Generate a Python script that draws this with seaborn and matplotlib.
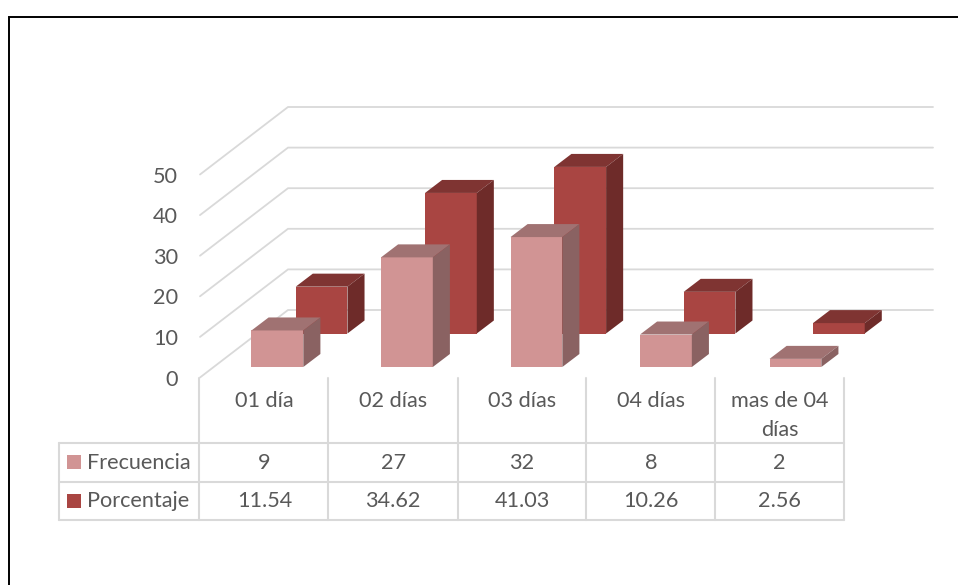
import matplotlib
matplotlib.use("Agg")
import matplotlib.pyplot as plt
from matplotlib.patches import Polygon, Rectangle
from matplotlib.transforms import Affine2D, blended_transform_factory
import pandas as pd
import seaborn as sns

categorias = ["01 día", "02 días", "03 días", "04 días", "mas de 04\ndías"]
frecuencia = [9, 27, 32, 8, 2]
porcentaje = [11.54, 34.62, 41.03, 10.26, 2.56]
frecuencia_txt = ["9", "27", "32", "8", "2"]
porcentaje_txt = ["11.54", "34.62", "41.03", "10.26", "2.56"]
ticks_y = [0, 10, 20, 30, 40, 50]

W, H = 958, 585
TEXTO = "#595959"
REJILLA = "#d9d9d9"
TONOS = {
    "Frecuencia": {"cara": "#d19494", "techo": "#a07272", "lado": "#8a6262"},
    "Porcentaje": {"cara": "#a94542", "techo": "#7f3432", "lado": "#6e2b29"},
}

sns.set_theme(style="white")
plt.rcParams["font.family"] = ["Lato", "DejaVu Sans"]
TAM = 15.6

df = pd.DataFrame({
    "categoria": categorias * 2,
    "valor": frecuencia + porcentaje,
    "serie": ["Frecuencia"] * 5 + ["Porcentaje"] * 5,
})

fig = plt.figure(figsize=(W / 100, H / 100), dpi=100, facecolor="white")

# Capa en píxeles para el marco y la tabla de datos
capa = fig.add_axes([0, 0, 1, 1], zorder=1)
capa.set_xlim(0, W)
capa.set_ylim(H, 0)
capa.axis("off")

# Ejes principales: cada categoría ocupa una celda de la tabla
X0, X1, Y0, Y50 = 200, 844, 377.5, 174.5
ax = fig.add_axes([X0 / W, 1 - Y0 / H, (X1 - X0) / W, (Y0 - Y50) / H], zorder=2)
ax.patch.set_alpha(0)

sns.barplot(
    data=df, x="categoria", y="valor", hue="serie", order=categorias,
    hue_order=["Porcentaje", "Frecuencia"], palette={k: v["cara"] for k, v in TONOS.items()},
    dodge=False, width=0.40, saturation=1, legend=False, linewidth=0, ax=ax,
)
ax.set_xlim(-0.5, 4.5)
ax.set_ylim(0, 50)

PX_X = (X1 - X0) / 5
PX_Y = (Y0 - Y50) / 50

# Paredes del fondo: una línea oblicua y otra horizontal por cada marca
PARED_X, PARED_Y = 88 / PX_X, 67.5 / PX_Y
FIN_X = -0.5 + (933 - X0) / PX_X
for v in ticks_y:
    ax.plot([-0.5, -0.5 + PARED_X, FIN_X], [v, v + PARED_Y, v + PARED_Y],
            color=REJILLA, lw=1.3, zorder=0, clip_on=False, solid_joinstyle="miter")

# Volumen de las barras: cara desplazada hacia su fila, con techo y lateral.
# La perspectiva separa las barras algo más que las celdas de la tabla.
PROF_X, PROF_Y = 17 / PX_X, 13 / PX_Y
ORIGEN_X = 264.4
ESCALA_X = {"Porcentaje": 1.0040, "Frecuencia": 1.0055}
FILAS = {"Porcentaje": (57.2, 44.0, 3), "Frecuencia": (13.0, 10.5, 5)}
for contenedor, serie in zip(ax.containers, ["Porcentaje", "Frecuencia"]):
    dx, dy, z = FILAS[serie]
    tr = ax.transData + Affine2D().translate(-ORIGEN_X, 0).scale(ESCALA_X[serie], 1).translate(ORIGEN_X + dx, dy)
    for barra in contenedor:
        barra.set_transform(tr)
        barra.set_zorder(z)
        barra.set_clip_on(False)
        x0, x1 = barra.get_x(), barra.get_x() + barra.get_width()
        y1 = barra.get_height()
        techo = [(x0, y1), (x1, y1), (x1 + PROF_X, y1 + PROF_Y), (x0 + PROF_X, y1 + PROF_Y)]
        lado = [(x1, 0), (x1 + PROF_X, PROF_Y), (x1 + PROF_X, y1 + PROF_Y), (x1, y1)]
        ax.add_patch(Polygon(techo, closed=True, fc=TONOS[serie]["techo"], ec="none",
                             transform=tr, zorder=z, clip_on=False))
        ax.add_patch(Polygon(lado, closed=True, fc=TONOS[serie]["lado"], ec="none",
                             transform=tr, zorder=z, clip_on=False))

ax.set_xlabel("")
ax.set_ylabel("")
ax.set_yticks(ticks_y)
ax.set_yticklabels([str(t) for t in ticks_y], fontsize=TAM, color=TEXTO)
ax.set_xticks(range(5))
ax.set_xticklabels(categorias, fontsize=TAM, color=TEXTO, linespacing=1.55)
ax.tick_params(axis="y", length=0, pad=16)
ax.tick_params(axis="x", length=0, pad=10)
sns.despine(ax=ax, left=True, bottom=True)

# Marco exterior: solo borde superior e izquierdo
capa.plot([9, 9, W], [H, 17, 17], color="black", lw=1.4, solid_joinstyle="miter", clip_on=False)

# Tabla de datos bajo el eje
COLS = [199.5, 328.5, 458, 586, 715, 844]
FILAS_Y = [443, 482, 520]
for x in COLS:
    capa.plot([x, x], [378, 520], color=REJILLA, lw=1.5)
capa.plot([59.5, 59.5], [443, 520], color=REJILLA, lw=1.5)
for y in FILAS_Y:
    capa.plot([59, 844], [y, y], color=REJILLA, lw=1.5)

mezcla = blended_transform_factory(ax.transData, capa.transData)
for fila_y, serie, textos in zip([463, 501], ["Frecuencia", "Porcentaje"],
                                 [frecuencia_txt, porcentaje_txt]):
    capa.add_patch(Rectangle((67, fila_y - 8 if serie == "Frecuencia" else fila_y - 7), 14, 14,
                             fc=TONOS[serie]["cara"], ec="none"))
    capa.text(87, fila_y, serie, fontsize=TAM, color=TEXTO, va="center", ha="left")
    for i, t in enumerate(textos):
        capa.text(i, fila_y, t, transform=mezcla, fontsize=TAM, color=TEXTO,
                  va="center", ha="center")

fig.savefig("out.png", dpi=100, facecolor="white")
